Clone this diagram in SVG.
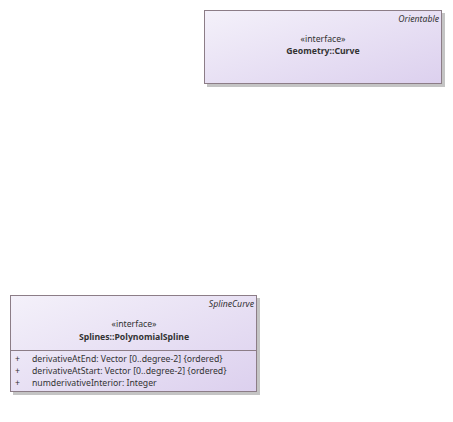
<svg xmlns="http://www.w3.org/2000/svg" width="453" height="422" viewBox="0 0 453 422">
<defs>
<linearGradient id="g" x1="0" y1="0" x2="1" y2="1">
<stop offset="0" stop-color="#f4f1fa"/>
<stop offset="1" stop-color="#dcd0ee"/>
</linearGradient>
<style>
.box{fill:url(#g);stroke:#8c7d87;stroke-width:1}
.sh{fill:#c4c4c4}
text{font-family:"Noto Sans","Liberation Sans",sans-serif;font-size:8.7px;fill:#333}
.c{text-anchor:middle}
.b{font-weight:bold}
.i{font-style:italic;text-anchor:end}
.sep{stroke:#8c7d87;stroke-width:1}
</style>
</defs>
<rect width="453" height="422" fill="#fff"/>
<g id="curve">
<rect class="sh" x="207" y="13" width="238" height="74"/>
<rect class="box" x="204.5" y="10.5" width="237" height="73"/>
<text class="i" x="439" y="22">Orientable</text>
<text class="c" x="323" y="42">«interface»</text>
<text class="c b" x="323" y="54">Geometry::Curve</text>
</g>
<g id="polynomialspline">
<rect class="sh" x="13" y="298" width="247" height="97"/>
<rect class="box" x="10.5" y="295.5" width="246" height="96"/>
<text class="i" x="254" y="307">SplineCurve</text>
<text class="c" x="134" y="327">«interface»</text>
<text class="c b" x="134" y="340">Splines::PolynomialSpline</text>
<line class="sep" x1="10.5" y1="350.5" x2="256.5" y2="350.5"/>
<text x="15" y="362">+</text>
<text x="32" y="362">derivativeAtEnd: Vector [0..degree-2] {ordered}</text>
<text x="15" y="374">+</text>
<text x="32" y="374">derivativeAtStart: Vector [0..degree-2] {ordered}</text>
<text x="15" y="386">+</text>
<text x="32" y="386">numderivativeInterior: Integer</text>
</g>
<g id="connectors"/>
</svg>
